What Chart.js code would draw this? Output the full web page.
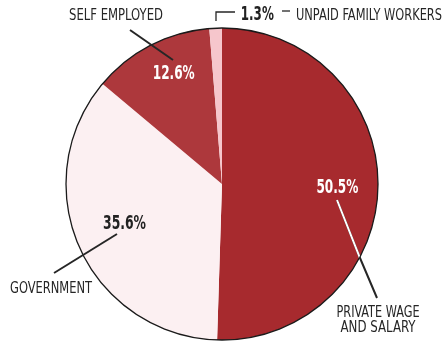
<!DOCTYPE html>
<html>
<head>
<meta charset="utf-8">
<script src="https://cdn.jsdelivr.net/npm/chart.js@4/dist/chart.umd.min.js"></script>
<style>
  html, body { margin: 0; padding: 0; background: #fff; }
  #wrap { width: 444px; height: 341px; position: relative; }
</style>
</head>
<body>
<div id="wrap"><canvas id="pie"></canvas></div>
<script>
// Employment by class of worker (share of total, %)
const categories = ['PRIVATE WAGE\nAND SALARY', 'GOVERNMENT', 'SELF EMPLOYED', 'UNPAID FAMILY WORKERS'];
const shares = [50.5, 35.6, 12.6, 1.3];
const sliceColors = ['#a72a2e', '#fcf0f2', '#ad383c', '#f6c6cc'];
const pctColors = ['#ffffff', '#222222', '#ffffff', '#222222'];

const NARROW = '"Liberation Sans Narrow", "DejaVu Sans Condensed", sans-serif';
const INK = '#262626';

// percent label placement: fraction of radius + angle nudge (deg) from slice middle
const pctPlace = [
    { f: 0.74, nudge: 0 },
    { f: 0.67, nudge: 3 },
    { f: 0.78, nudge: 4 },
    { f: 1.12, nudge: 14 }
];

// squeeze text into a fixed width, like a condensed face
function narrowText(ctx, text, x, y, size, bold, color, align, width) {
    ctx.save();
    ctx.font = (bold ? 'bold ' : '') + size + 'px ' + NARROW;
    ctx.fillStyle = color;
    ctx.textAlign = align;
    ctx.textBaseline = 'alphabetic';
    ctx.fillText(text, x, y, width);
    ctx.restore();
}

function polyline(ctx, cx, cy, pts, color, width) {
    ctx.beginPath();
    pts.forEach((p, i) => i ? ctx.lineTo(cx + p[0], cy + p[1]) : ctx.moveTo(cx + p[0], cy + p[1]));
    ctx.strokeStyle = color;
    ctx.lineWidth = width;
    ctx.stroke();
}

const callouts = {
    id: 'callouts',
    afterDraw(chart) {
        const ctx = chart.ctx;
        const meta = chart.getDatasetMeta(0);
        const first = meta.data[0];
        const cx = first.x, cy = first.y, R = first.outerRadius;

        // outer rim
        ctx.save();
        ctx.beginPath();
        ctx.arc(cx, cy, R, 0, Math.PI * 2);
        ctx.strokeStyle = '#1a1a1a';
        ctx.lineWidth = 1.3;
        ctx.stroke();
        ctx.restore();

        ctx.save();
        ctx.lineCap = 'butt';
        // private wage: white inside the pie, dark outside
        const privLine = [[115, 16], [138, 74], [155, 114]];
        polyline(ctx, cx, cy, privLine, INK, 2);
        ctx.save();
        ctx.beginPath();
        ctx.arc(cx, cy, R - 0.5, 0, Math.PI * 2);
        ctx.clip();
        polyline(ctx, cx, cy, privLine, '#ffffff', 2);
        ctx.restore();
        // government
        polyline(ctx, cx, cy, [[-105, 50], [-168, 89]], INK, 2);
        // self employed
        polyline(ctx, cx, cy, [[-92, -154], [-49, -124]], INK, 2);
        // unpaid family workers bracket and dash
        polyline(ctx, cx, cy, [[-6, -163], [-6, -172], [13, -172]], INK, 1.3);
        polyline(ctx, cx, cy, [[60, -173], [68, -173]], INK, 1.3);
        ctx.restore();

        // category names
        narrowText(ctx, 'SELF EMPLOYED', cx - 153, cy - 164, 15, false, INK, 'left', 94);
        narrowText(ctx, 'UNPAID FAMILY WORKERS', cx + 74, cy - 164, 15, false, INK, 'left', 146);
        narrowText(ctx, 'GOVERNMENT', cx - 212, cy + 109, 15, false, INK, 'left', 82);
        narrowText(ctx, 'PRIVATE WAGE', cx + 156, cy + 133, 15, false, INK, 'center', 83);
        narrowText(ctx, 'AND SALARY', cx + 156, cy + 148, 15, false, INK, 'center', 75);

        // percentages, placed along each slice's middle angle
        const pctWidths = [42, 43, 42, 33];
        meta.data.forEach((arc, i) => {
            const mid = (arc.startAngle + arc.endAngle) / 2 + pctPlace[i].nudge * Math.PI / 180;
            const r = R * pctPlace[i].f;
            const x = cx + Math.cos(mid) * r;
            const y = cy + Math.sin(mid) * r;
            narrowText(ctx, shares[i].toFixed(1) + '%', x, y + 7, 19, true, pctColors[i], 'center', pctWidths[i]);
        });
    }
};

new Chart(document.getElementById('pie'), {
    type: 'pie',
    data: {
        labels: categories,
        datasets: [{
            data: shares,
            backgroundColor: sliceColors,
            borderWidth: 0
        }]
    },
    options: {
        responsive: true,
        maintainAspectRatio: false,
        animation: false,
        layout: { padding: { top: 28, bottom: 1, left: 0, right: 0 } },
        plugins: {
            legend: { display: false },
            tooltip: { enabled: false }
        }
    },
    plugins: [callouts]
});
</script>
</body>
</html>
